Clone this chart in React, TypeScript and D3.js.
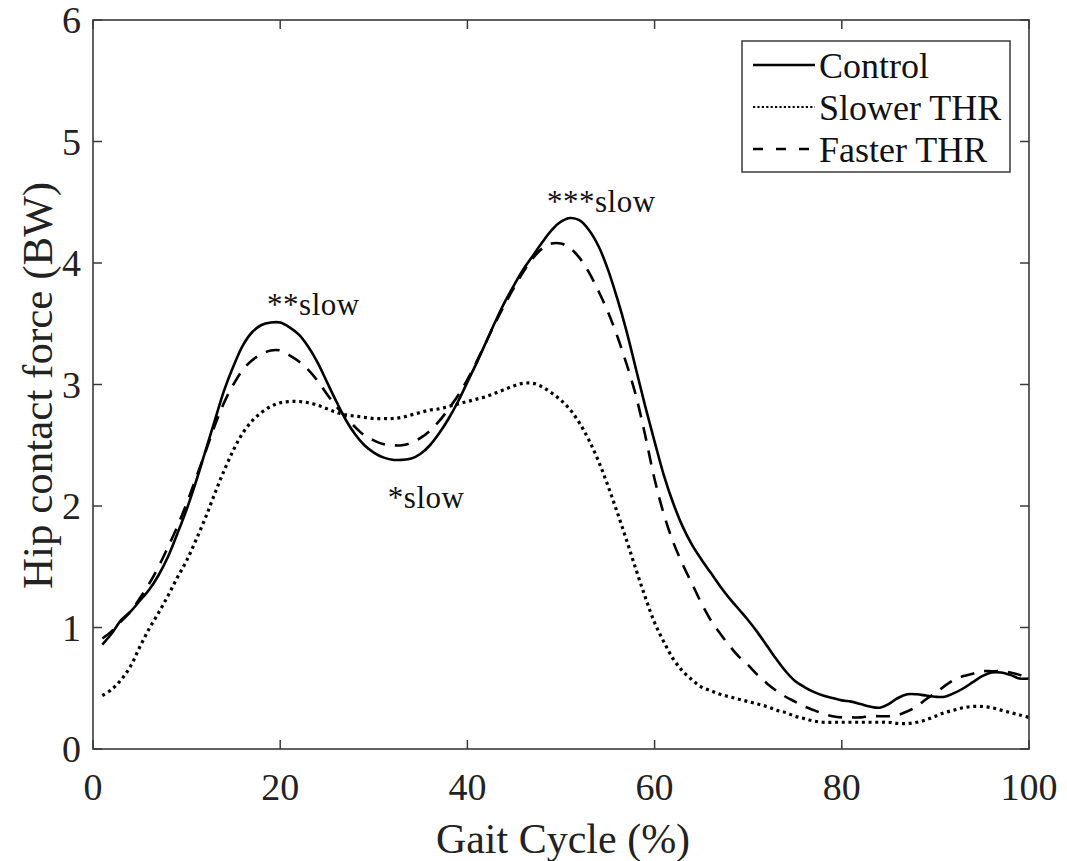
import React from "react";
import * as d3 from "d3";

const gaitCycle: number[] = d3.range(1, 101);

const controlValues: number[] = [
  0.86, 0.95, 1.06, 1.13, 1.22, 1.31, 1.43, 1.58, 1.77, 1.97,
  2.2, 2.45, 2.7, 2.95, 3.15, 3.32, 3.43, 3.49, 3.51, 3.51,
  3.47, 3.41, 3.31, 3.18, 3.02, 2.86, 2.71, 2.59, 2.5, 2.44,
  2.4, 2.38, 2.38, 2.39, 2.43, 2.5, 2.6, 2.72, 2.86, 3.02,
  3.18, 3.35, 3.52, 3.68, 3.82, 3.95, 4.06, 4.17, 4.27, 4.34,
  4.37, 4.35, 4.27, 4.14, 3.95, 3.71, 3.44, 3.13, 2.82, 2.53,
  2.25, 2.02, 1.83, 1.68, 1.56, 1.45, 1.34, 1.24, 1.15, 1.06,
  0.96, 0.85, 0.74, 0.64, 0.56, 0.51, 0.47, 0.44, 0.42, 0.4,
  0.39, 0.37, 0.35, 0.34, 0.37, 0.42, 0.45, 0.45, 0.44, 0.43,
  0.43, 0.46, 0.5, 0.55, 0.6, 0.63, 0.63, 0.61, 0.58, 0.58,
];

const slowerValues: number[] = [
  0.44, 0.49, 0.57, 0.68, 0.84, 0.99, 1.12, 1.26, 1.41, 1.55,
  1.72, 1.9, 2.1, 2.29, 2.46, 2.6, 2.7, 2.77, 2.82, 2.85,
  2.86, 2.86, 2.85, 2.83, 2.8, 2.77, 2.75, 2.74, 2.73, 2.72,
  2.72, 2.72, 2.73, 2.75, 2.77, 2.79, 2.8, 2.82, 2.84, 2.86,
  2.88, 2.9, 2.93, 2.96, 2.99, 3.01, 3.01, 2.98, 2.93, 2.87,
  2.79, 2.68, 2.54, 2.37, 2.17, 1.95, 1.72, 1.48, 1.25, 1.04,
  0.88, 0.74, 0.64, 0.57, 0.51, 0.48, 0.45, 0.43, 0.41, 0.39,
  0.37, 0.35, 0.32, 0.3, 0.27, 0.25, 0.23, 0.22, 0.22, 0.22,
  0.22, 0.22, 0.22, 0.22, 0.22, 0.21, 0.21, 0.22, 0.24, 0.27,
  0.3, 0.32, 0.34, 0.35, 0.35, 0.34, 0.32, 0.3, 0.28, 0.26,
];

const fasterValues: number[] = [
  0.91, 0.97, 1.05, 1.13, 1.24, 1.36, 1.5, 1.66, 1.83, 2.02,
  2.23, 2.44, 2.66, 2.85, 3.0, 3.12, 3.2, 3.25, 3.28, 3.28,
  3.24, 3.19, 3.12, 3.03, 2.92, 2.82, 2.73, 2.65, 2.58, 2.54,
  2.51, 2.5, 2.5, 2.52, 2.56, 2.62, 2.7, 2.8, 2.91, 3.04,
  3.19, 3.35, 3.51, 3.66, 3.8, 3.93, 4.04, 4.12, 4.16, 4.16,
  4.12, 4.04, 3.92, 3.77, 3.6, 3.4, 3.17, 2.91, 2.58, 2.22,
  1.93, 1.7, 1.52, 1.36, 1.2, 1.06, 0.95, 0.85, 0.76, 0.69,
  0.61, 0.54, 0.48, 0.43, 0.39, 0.35, 0.32, 0.29, 0.27, 0.26,
  0.26, 0.26, 0.27, 0.27, 0.27, 0.28, 0.31, 0.35, 0.41, 0.46,
  0.52, 0.57, 0.6, 0.62, 0.64, 0.64, 0.64, 0.63, 0.61, 0.57,
];

const xTicks: number[] = [0, 20, 40, 60, 80, 100];
const yTicks: number[] = [0, 1, 2, 3, 4, 5, 6];

const seriesNames: string[] = ["Control", "Slower THR", "Faster THR"];

const annotationTexts: string[] = ["**slow", "*slow", "***slow"];
const annotationX: number[] = [18.6, 31.5, 48.5];
const annotationY: number[] = [3.57, 1.98, 4.42];

const W = 1067;
const H = 861;
const M = { left: 93, right: 1029, top: 20, bottom: 749 };
const FONT = "'Liberation Serif', 'Times New Roman', serif";
const AXIS_COLOR = "#3a3a3a";

const dashStyles: (string | undefined)[] = [undefined, "3,3.7", "14,10"];
const legendDash: (string | undefined)[] = [undefined, "2.2,2.2", "10,13"];

export default function App() {
  const x = d3.scaleLinear().domain([0, 100]).range([M.left, M.right]);
  const y = d3.scaleLinear().domain([0, 6]).range([M.bottom, M.top]);

  const line = d3
    .line<[number, number]>()
    .x((d) => x(d[0]))
    .y((d) => y(d[1]))
    .curve(d3.curveCatmullRom.alpha(0.5));

  const allSeries = [controlValues, slowerValues, fasterValues];
  const paths = allSeries.map((vals) =>
    line(gaitCycle.map((g, i) => [g, vals[i]] as [number, number]))
  );

  const tickLen = 9;

  return (
    <svg
      width={W}
      height={H}
      style={{ position: "absolute", left: 0, top: 0, background: "#fff" }}
      fontFamily={FONT}
    >
      <rect x={0} y={0} width={W} height={H} fill="#fff" />
      {paths.map((p, i) => (
        <path
          key={i}
          d={p || ""}
          fill="none"
          stroke="#000"
          strokeWidth={i === 1 ? 3.2 : 2.6}
          strokeDasharray={dashStyles[i]}
          strokeLinecap="butt"
        />
      ))}
      <rect
        x={M.left}
        y={M.top}
        width={M.right - M.left}
        height={M.bottom - M.top}
        fill="none"
        stroke={AXIS_COLOR}
        strokeWidth={1.6}
      />
      {xTicks.map((t) => (
        <g key={"xt" + t}>
          <line x1={x(t)} x2={x(t)} y1={M.bottom} y2={M.bottom - tickLen} stroke={AXIS_COLOR} strokeWidth={1.5} />
          <line x1={x(t)} x2={x(t)} y1={M.top} y2={M.top + tickLen} stroke={AXIS_COLOR} strokeWidth={1.5} />
          <text x={x(t)} y={M.bottom + 51} textAnchor="middle" fontSize={38} fill="#222">
            {t}
          </text>
        </g>
      ))}
      {yTicks.map((t) => (
        <g key={"yt" + t}>
          <line x1={M.left} x2={M.left + tickLen} y1={y(t)} y2={y(t)} stroke={AXIS_COLOR} strokeWidth={1.5} />
          <line x1={M.right} x2={M.right - tickLen} y1={y(t)} y2={y(t)} stroke={AXIS_COLOR} strokeWidth={1.5} />
          <text x={M.left - 12} y={y(t) + 13} textAnchor="end" fontSize={38} fill="#222">
            {t}
          </text>
        </g>
      ))}
      <text x={(M.left + M.right) / 2 + 2} y={853} textAnchor="middle" fontSize={42} fill="#222">
        Gait Cycle (%)
      </text>
      <text
        transform={`translate(52, ${(M.top + M.bottom) / 2 + 1}) rotate(-90)`}
        textAnchor="middle"
        fontSize={43}
        fill="#222"
      >
        Hip contact force (BW)
      </text>
      {annotationTexts.map((t, i) => (
        <text key={"an" + i} x={x(annotationX[i])} y={y(annotationY[i])} fontSize={31} fill="#111" letterSpacing={0.5}>
          {t}
        </text>
      ))}
      <g>
        <rect x={742} y={41} width={268} height={131} fill="#fff" stroke={AXIS_COLOR} strokeWidth={1.5} />
        {seriesNames.map((name, i) => {
          const ly = 65 + i * 42;
          return (
            <g key={"lg" + i}>
              <line
                x1={753}
                x2={815}
                y1={ly}
                y2={ly}
                stroke="#000"
                strokeWidth={i === 1 ? 2 : 2.6}
                strokeDasharray={legendDash[i]}
              />
              <text x={819} y={ly + 13} fontSize={36} fill="#111">
                {name}
              </text>
            </g>
          );
        })}
      </g>
    </svg>
  );
}
